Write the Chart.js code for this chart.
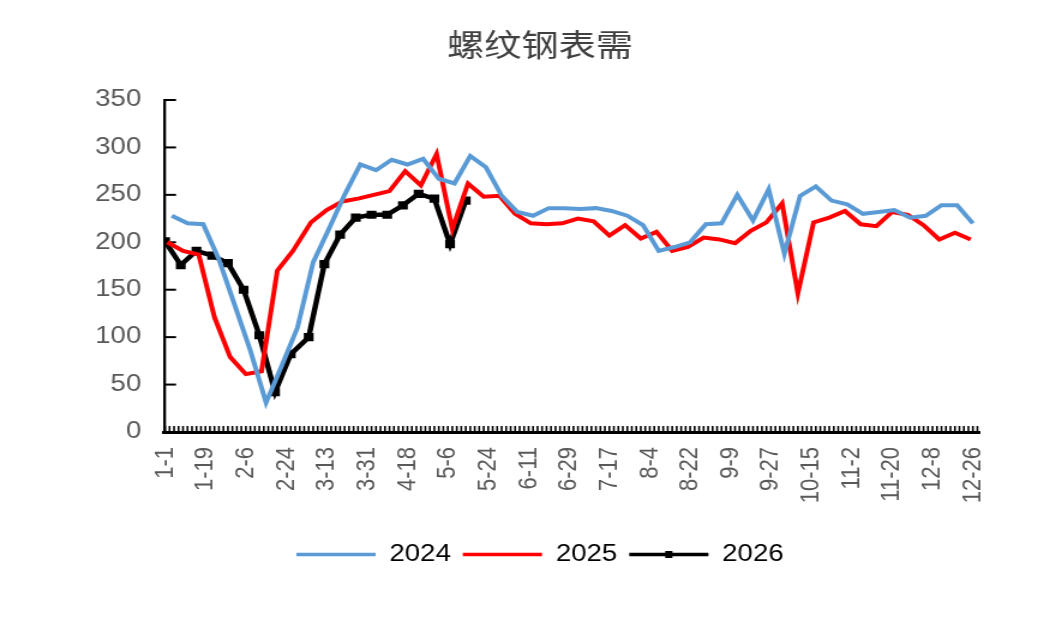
<!DOCTYPE html>
<html lang="zh">
<head>
<meta charset="utf-8">
<title>螺纹钢表需</title>
<script src="https://cdn.jsdelivr.net/npm/chart.js@4.4.1/dist/chart.umd.min.js"></script>
<style>
  html, body { margin: 0; padding: 0; background: #fff; overflow: hidden; }
  /* the source picture is stretched sideways, so draw narrow and widen it */
  #wrap { width: 900px; height: 622px; transform: scaleX(1.2); transform-origin: 0 0; }
</style>
</head>
<body>
<div id="wrap"><canvas id="chart"></canvas></div>
<script>
const chartTitle = '螺纹钢表需';
const seriesNames = ['2024', '2025', '2026'];
const seriesColors = ['#5B9BD5', '#FF0000', '#000000'];
// first weekly reading of each year (Thursdays), [year, month, day]
const startDates = [[2024, 1, 4], [2025, 1, 2], [2026, 1, 1]];

const v2024 = [228, 220, 219, 182, 134, 86, 31, 70, 110, 179,
               214, 250, 282, 276, 287, 282, 288, 267, 262, 291,
               279, 249, 232, 228, 236, 236, 235, 236, 233, 228,
               218, 191, 195, 200, 219, 220, 250, 223, 256, 188,
               249, 259, 244, 240, 230, 232, 234, 226, 228, 239,
               239, 220];
const v2025 = [200, 191, 187, 121, 79, 61, 64, 170, 191,
               221, 234, 243, 246, 250, 254, 275, 260, 293, 214,
               262, 248, 249, 230, 220, 219, 220, 225, 222, 207,
               218, 204, 211, 191, 195, 205, 203, 199, 212, 221,
               241, 146, 221, 226, 233, 219, 217, 232, 229, 218,
               203, 210, 203];
const v2026 = [201, 176, 191, 186, 178, 150, 102, 42, 82, 100,
               177, 208, 226, 229, 229, 239, 251, 246, 198, 244];

const xTickLabels = ['1-1', '1-19', '2-6', '2-24', '3-13', '3-31', '4-18', '5-6', '5-24', '6-11',
                     '6-29', '7-17', '8-4', '8-22', '9-9', '9-27', '10-15', '11-2', '11-20', '12-8', '12-26'];
const yTicks = [0, 50, 100, 150, 200, 250, 300, 350];

// x axis runs over the days of a leap year, 1-1 = 0
const DAY = 86400000;
function dayOf(m, d) {
  return Math.round((Date.UTC(2024, m - 1, d) - Date.UTC(2024, 0, 1)) / DAY);
}
function labelDay(label) {
  const p = label.split('-');
  return dayOf(+p[0], +p[1]);
}
function weekly(start, values) {
  return values.map((v, i) => {
    const t = new Date(Date.UTC(start[0], start[1] - 1, start[2] + 7 * i));
    return { x: dayOf(t.getUTCMonth() + 1, t.getUTCDate()), y: v };
  });
}

const labelByDay = {};
xTickLabels.forEach(l => { labelByDay[labelDay(l)] = l; });

const allValues = [v2024, v2025, v2026];
const datasets = allValues.map((vals, i) => ({
  label: seriesNames[i],
  data: weekly(startDates[i], vals),
  borderColor: seriesColors[i],
  backgroundColor: seriesColors[i],
  borderWidth: i === 2 ? 4.5 : 4,
  pointRadius: i === 2 ? 2.6 : 0,
  pointStyle: 'rect',
  tension: 0,
  fill: false
}));

// ticks that point into the plot, like the original
const innerTicks = {
  id: 'innerTicks',
  beforeDatasetsDraw(chart) {
    const c = chart.ctx;
    const x = chart.scales.x, y = chart.scales.y;
    const area = chart.chartArea;
    c.save();
    c.strokeStyle = '#000';
    c.lineWidth = 2;
    yTicks.forEach(v => {
      const py = y.getPixelForValue(v);
      c.beginPath();
      c.moveTo(area.left, py);
      c.lineTo(area.left + 10, py);
      c.stroke();
    });
    c.lineWidth = 1.6;
    for (let d = 0; d <= x.max; d += 2) {
      const px = x.getPixelForValue(d);
      c.beginPath();
      c.moveTo(px, area.bottom);
      c.lineTo(px, area.bottom - 6);
      c.stroke();
    }
    c.restore();
  }
};

// small square on the 2026 legend line
const legendMarker = {
  id: 'legendMarker',
  afterDraw(chart) {
    const box = chart.legend.legendHitBoxes[2];
    if (!box) return;
    const c = chart.ctx;
    const cx = box.left + chart.legend.options.labels.boxWidth / 2;
    const cy = box.top + box.height / 2;
    c.save();
    c.fillStyle = '#000';
    c.fillRect(cx - 3, cy - 3.5, 6, 7);
    c.restore();
  }
};

const ctx = document.getElementById('chart').getContext('2d');
new Chart(ctx, {
  type: 'line',
  data: { datasets: datasets },
  options: {
    responsive: true,
    maintainAspectRatio: false,
    animation: false,
    layout: { padding: { top: 10, bottom: 46, left: 0, right: 0 } },
    scales: {
      x: {
        type: 'linear',
        min: -0.45,
        max: 363.2,
        afterBuildTicks: s => { s.ticks = xTickLabels.map(l => ({ value: labelDay(l) })); },
        afterFit: s => { s.height = 101; },
        grid: { drawOnChartArea: false, drawTicks: false },
        border: { display: true, color: '#000', width: 3 },
        ticks: {
          autoSkip: false,
          minRotation: 90,
          maxRotation: 90,
          padding: 15,
          color: '#595959',
          font: { family: 'Liberation Sans', size: 22 },
          callback: v => labelByDay[v] || ''
        }
      },
      y: {
        min: 0,
        max: 350,
        afterBuildTicks: s => { s.ticks = yTicks.map(v => ({ value: v })); },
        afterFit: s => { s.width = 136.7; },
        grid: { drawOnChartArea: false, drawTicks: false },
        border: { display: true, color: '#000', width: 2.3 },
        ticks: {
          padding: 19,
          color: '#595959',
          font: { family: 'Liberation Sans', size: 23 }
        }
      },
      yRight: {
        position: 'right',
        display: true,
        grid: { display: false, drawTicks: false },
        border: { display: false },
        ticks: { display: false },
        afterFit: s => { s.width = 83.3; }
      }
    },
    plugins: {
      title: {
        display: true,
        text: chartTitle,
        color: '#404040',
        font: { family: 'Noto Sans CJK SC', size: 31, weight: 'normal' },
        padding: { top: 16, bottom: 36.8 }
      },
      legend: {
        position: 'bottom',
        labels: {
          boxWidth: 66,
          boxHeight: 3.5,
          padding: 10,
          color: '#595959',
          font: { family: 'Liberation Sans', size: 23 },
          generateLabels: chart => chart.data.datasets.map((ds, i) => ({
            text: ds.label,
            fillStyle: ds.borderColor,
            strokeStyle: ds.borderColor,
            lineWidth: 0,
            hidden: false,
            datasetIndex: i
          }))
        }
      },
      tooltip: { enabled: false }
    }
  },
  plugins: [innerTicks, legendMarker]
});
</script>
</body>
</html>
